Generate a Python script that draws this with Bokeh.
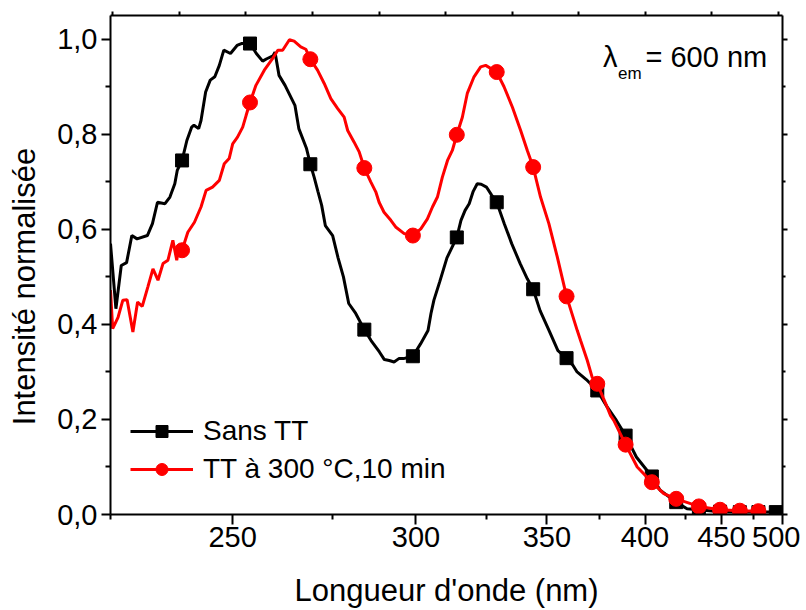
import numpy as np
from bokeh.plotting import figure
from bokeh.models import (Range1d, LinearAxis, FixedTicker, Legend, LegendItem,
                          Label, ColumnDataSource, CustomJSTickFormatter)
from bokeh.embed import file_html
from bokeh.resources import INLINE

HC = 1240.0  # eV*nm : the x axis is linear in photon energy, labelled in nm

# ---- data ----
black_wl = [225, 226, 227, 228, 229, 230, 232, 233, 234, 235.5, 236.5, 237.5, 238, 239,
            240, 241, 241.5, 242.5, 243, 244, 245, 246, 247, 248, 249.5, 251, 252, 254,
            255.5, 257, 258, 259.5, 260, 261, 262.5, 265, 266, 268, 269, 270, 271, 272,
            273, 275, 276.5, 278, 279.5, 281.5, 284, 286, 288.5, 290, 291.5, 293, 294.5,
            296, 299, 301.5, 304, 305, 306, 308, 310.5, 314, 315.5, 317, 318.5, 320,
            321.5, 323, 325, 327, 329, 332, 335, 338.5, 341.5, 344, 347, 351, 355, 359,
            362, 364, 368.5, 374, 379, 384, 389, 395, 404, 409, 419, 426, 434, 449,
            464, 479, 494, 500]
black_int = [0.570, 0.433, 0.524, 0.530, 0.587, 0.580, 0.587, 0.612, 0.657, 0.654, 0.668,
             0.696, 0.724, 0.745, 0.787, 0.815, 0.819, 0.812, 0.829, 0.889, 0.914, 0.921,
             0.945, 0.977, 0.970, 0.987, 0.991, 0.991, 0.970, 0.954, 0.959, 0.965, 0.973,
             0.924, 0.903, 0.861, 0.812, 0.770, 0.737, 0.710, 0.680, 0.651, 0.608, 0.587,
             0.540, 0.500, 0.444, 0.423, 0.389, 0.366, 0.342, 0.326, 0.324, 0.321, 0.328,
             0.328, 0.333, 0.359, 0.387, 0.423, 0.451, 0.490, 0.540, 0.583, 0.619, 0.640,
             0.654, 0.680, 0.696, 0.695, 0.689, 0.672, 0.657, 0.612, 0.570, 0.528, 0.496,
             0.474, 0.429, 0.387, 0.345, 0.329, 0.314, 0.300, 0.284, 0.261, 0.227, 0.198,
             0.166, 0.121, 0.080, 0.051, 0.026, 0.012, 0.010, 0.006, 0.005, 0.005, 0.005,
             0.004]

red_wl = [225, 225.4, 226.4, 227.3, 228.1, 229.2, 230.1, 231, 232.1, 233.1, 234.1, 235.1,
          236.1, 237.1, 237.9, 238.3, 239, 240.2, 241.6, 243, 244.1, 245.5, 247, 248.1,
          249.2, 250, 251.1, 252.3, 253.1, 254, 255.4, 257.4, 259.4, 260.7, 261.9, 263.6,
          264.8, 266.5, 267.8, 269, 270.9, 272.7, 274.5, 276.4, 278.2, 279.2, 281, 282.5,
          284, 285.9, 287.4, 288.4, 289.9, 292, 293.5, 296.2, 299, 301.6, 303.8, 305.5,
          307.2, 308.9, 310.7, 312.4, 314, 316, 317.8, 320.3, 322.8, 324.7, 329, 331.9,
          335.3, 338.7, 341.5, 344, 347.2, 350.9, 354.7, 359, 364.1, 365.7, 369, 371.4,
          374, 379.1, 380.9, 382.6, 389, 395.5, 404, 411.2, 419, 434, 449, 464, 479, 483.4]
red_int = [0.472, 0.391, 0.415, 0.451, 0.452, 0.384, 0.447, 0.438, 0.479, 0.517, 0.493,
           0.528, 0.535, 0.577, 0.535, 0.563, 0.556, 0.594, 0.615, 0.647, 0.682, 0.689,
           0.703, 0.738, 0.749, 0.780, 0.794, 0.815, 0.840, 0.867, 0.903, 0.935, 0.959,
           0.977, 0.977, 0.999, 0.996, 0.984, 0.979, 0.958, 0.935, 0.907, 0.875, 0.854,
           0.836, 0.808, 0.784, 0.763, 0.729, 0.700, 0.679, 0.657, 0.636, 0.619, 0.605,
           0.591, 0.587, 0.601, 0.622, 0.647, 0.668, 0.710, 0.745, 0.766, 0.799, 0.836,
           0.886, 0.921, 0.942, 0.945, 0.931, 0.900, 0.857, 0.808, 0.766, 0.731, 0.668,
           0.612, 0.542, 0.459, 0.387, 0.366, 0.324, 0.289, 0.275, 0.226, 0.208, 0.198,
           0.147, 0.100, 0.068, 0.044, 0.033, 0.017, 0.010, 0.008, 0.007, 0.005]

marker_wl = [239, 254, 269, 284, 299, 314, 329, 344, 359, 374, 389, 404, 419, 434, 449,
             464, 479, 494]

x_major_nm = [250, 300, 350, 400, 450, 500]
x_minor_nm = [225, 275, 325, 375, 425, 475]
top_ticks_ev = [5.5, 5.2, 4.9, 4.6, 4.3, 4.0, 3.7, 3.4, 3.1, 2.8, 2.5]
y_major = [0.0, 0.2, 0.4, 0.6, 0.8, 1.0]
y_minor = [0.1, 0.3, 0.5, 0.7, 0.9]

series_names = ["Sans TT", "TT à 300 °C,10 min"]
series_colors = ["#000000", "#ff0000"]

FONT = "Liberation Sans"
NBSP = "\u00a0"

# ---- sources ----
def make_sources(wl, inten):
    wl = np.asarray(wl, dtype=float)
    inten = np.asarray(inten, dtype=float)
    line = ColumnDataSource(dict(e=HC / wl, y=inten))
    sel = np.isin(wl, marker_wl)
    mk = ColumnDataSource(dict(e=HC / wl[sel], y=inten[sel]))
    return line, mk

b_line, b_mk = make_sources(black_wl, black_int)
r_line, r_mk = make_sources(red_wl, red_int)

p = figure(width=800, height=610, output_backend="svg", toolbar_location=None,
           x_range=Range1d(HC / 225.0, HC / 500.0), y_range=Range1d(0, 1.05),
           x_axis_location=None, y_axis_location=None,
           min_border_left=110, min_border_right=18, min_border_top=15,
           min_border_bottom=96)
p.outline_line_color = None
p.background_fill_color = "white"
p.border_fill_color = "white"
p.xgrid.visible = False
p.ygrid.visible = False

def style_axis(ax, major_out, minor_out, lbl_size="29px"):
    ax.axis_line_width = 2
    ax.axis_line_color = "black"
    ax.major_tick_line_width = 2
    ax.minor_tick_line_width = 2
    ax.major_tick_in = 0
    ax.minor_tick_in = 0
    ax.major_tick_out = major_out
    ax.minor_tick_out = minor_out
    ax.major_label_text_font = FONT
    ax.major_label_text_font_size = lbl_size
    ax.major_label_text_color = "black"
    ax.axis_label_text_font = FONT
    ax.axis_label_text_font_size = "31px"
    ax.axis_label_text_font_style = "normal"
    ax.axis_label_text_color = "black"

# bottom axis: ticks at wavelengths, placed at their energy
bottom = LinearAxis(
    ticker=FixedTicker(ticks=[HC / w for w in x_major_nm],
                       minor_ticks=[HC / w for w in x_minor_nm]),
    formatter=CustomJSTickFormatter(code="return String(Math.round(1240 / tick));"),
    axis_label="Longueur d'onde (nm)")
style_axis(bottom, 10, 5)
bottom.major_label_standoff = 2
bottom.axis_label_standoff = 23
p.add_layout(bottom, "below")

# y title sits a little below the frame centre in the original: trailing
# no-break spaces move the visible text down
left = LinearAxis(
    ticker=FixedTicker(ticks=y_major, minor_ticks=y_minor),
    formatter=CustomJSTickFormatter(code="return tick.toFixed(1).replace('.', ',');"),
    axis_label="Intensité normalisée" + NBSP * 5)
style_axis(left, 9, 5)
left.major_label_standoff = 4
left.axis_label_standoff = 12
p.add_layout(left, "left")

top = LinearAxis(ticker=FixedTicker(ticks=top_ticks_ev, minor_ticks=[]),
                 formatter=CustomJSTickFormatter(code="return '';"))
style_axis(top, 4, 0, "1px")
top.major_label_standoff = 0
p.add_layout(top, "above")

right = LinearAxis(ticker=FixedTicker(ticks=y_major, minor_ticks=y_minor),
                   formatter=CustomJSTickFormatter(code="return '';"))
style_axis(right, 5, 3, "1px")
right.major_label_standoff = 0
p.add_layout(right, "right")

# ---- series ----
bl = p.line("e", "y", source=b_line, line_color=series_colors[0], line_width=3)
bm = p.scatter("e", "y", source=b_mk, marker="square", size=13,
               fill_color=series_colors[0], line_color=series_colors[0])
rl = p.line("e", "y", source=r_line, line_color=series_colors[1], line_width=3)
rm = p.scatter("e", "y", source=r_mk, marker="circle", size=15,
               fill_color=series_colors[1], line_color=series_colors[1])

legend = Legend(items=[LegendItem(label=series_names[0], renderers=[bl, bm]),
                       LegendItem(label=series_names[1], renderers=[rl, rm])],
                location=(20, 29), glyph_width=63, glyph_height=30, label_height=30,
                spacing=6, padding=0, margin=0, label_standoff=10,
                label_text_font=FONT, label_text_font_size="28px",
                label_text_color="black",
                border_line_color=None, background_fill_alpha=0)
p.add_layout(legend, "center")

# ---- annotation ----
p.add_layout(Label(x=3.29, y=0.962, text="λ", text_font=FONT, text_font_size="29px",
                   text_color="black", text_align="left", text_baseline="alphabetic"))
p.add_layout(Label(x=3.222, y=0.928, text="em", text_font=FONT, text_font_size="17px",
                   text_color="black", text_align="left", text_baseline="alphabetic"))
p.add_layout(Label(x=3.098, y=0.962, text="= 600 nm", text_font=FONT,
                   text_font_size="29px", text_color="black", text_align="left",
                   text_baseline="alphabetic"))

open("out.html", "w").write(file_html(p, INLINE))
